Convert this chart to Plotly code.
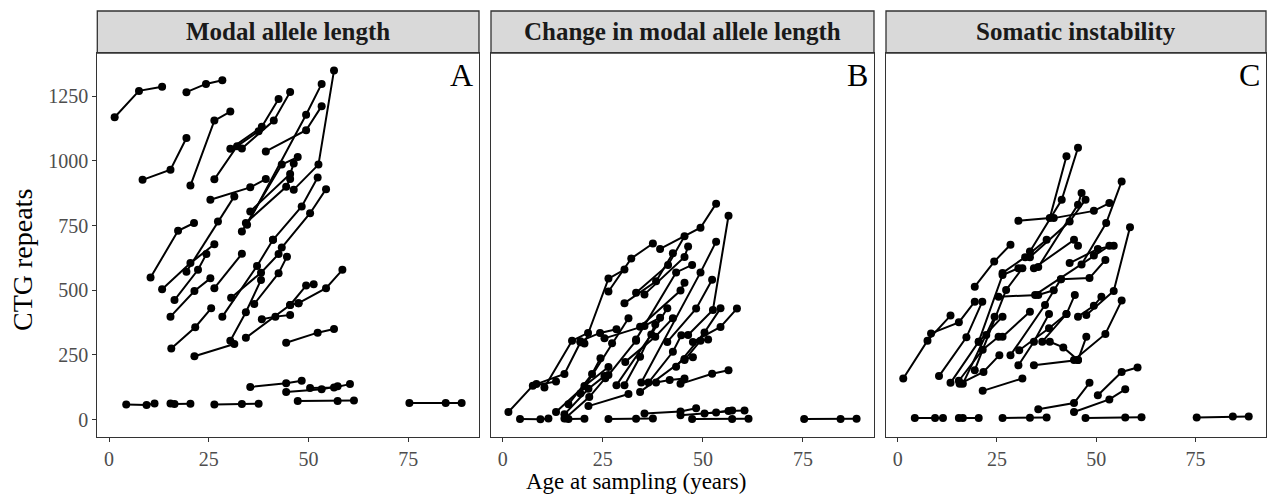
import plotly.graph_objects as go

# ---- data: one entry per individual (ages shared across panels) ----
ages = [
    [1.4, 7.5, 13.3], [19.4, 24.3, 28.4], [8.4, 15.4, 19.4], [20.4, 26.4, 30.4],
    [26.4, 32.1, 37.5], [30.4, 38.3, 42.5], [33.3, 41.3, 45.4], [39.3, 49.4, 53.3],
    [34.6, 49.4, 53.3], [46.3, 52.5, 56.4], [41.1, 48.3, 52.3], [43.3, 50.4, 54.4],
    [25.4, 35.4, 39.3], [10.4, 17.3, 21.3], [13.3, 20.4, 26.4], [19.4, 27.3, 31.4],
    [16.4, 22.3, 24.4], [15.4, 21.4, 25.4], [15.6, 21.6, 25.6], [21.4, 31.4],
    [30.4, 34.3, 38.1], [34.3, 45.4, 47.5], [26.4, 33.3], [28.4, 37.1, 41.1],
    [30.6, 38.1, 42.5], [36.4, 42.5, 44.6], [38.3, 41.7, 45.4], [45.4, 49.4, 51.3],
    [47.5, 54.4, 58.5], [44.4, 52.3, 56.4], [33.3, 43.3, 47.3], [35.4, 45.4, 46.3],
    [34.3, 44.4, 45.4], [4.3, 9.4, 11.4], [15.4, 16.4, 20.4], [26.4, 33.3, 37.5],
    [35.4, 44.4, 48.3], [44.4, 53.3, 57.3], [50.4, 56.4, 60.4], [47.3, 57.3, 61.4],
    [75.3, 84.4, 88.4],
]

modal_length = [
    [1169, 1271, 1287], [1266, 1298, 1312], [927, 966, 1089], [905, 1156, 1191],
    [929, 1057, 1115], [1047, 1132, 1240], [1048, 1156, 1267], [1037, 1119, 1212],
    [753, 1179, 1298], [889, 986, 1350], [695, 824, 936], [665, 798, 891],
    [850, 898, 930], [549, 730, 760], [504, 605, 678], [572, 766, 863],
    [462, 579, 640], [398, 497, 546], [275, 357, 430], [245, 292],
    [305, 415, 540], [316, 443, 450], [508, 641], [398, 594, 695],
    [471, 568, 640], [447, 566, 630], [388, 398, 404], [443, 518, 523],
    [450, 508, 579], [297, 336, 350], [727, 986, 1015], [805, 950, 990],
    [760, 900, 930], [58, 56, 62], [62, 60, 61], [58, 60, 61],
    [126, 140, 150], [107, 117, 129], [122, 124, 137], [72, 72, 74],
    [64, 64, 64],
]

change_length = [
    [29, 131, 147], [303, 335, 349], [137, 176, 299], [294, 545, 580],
    [495, 623, 681], [450, 535, 643], [490, 598, 709], [660, 742, 835],
    [143, 569, 688], [327, 424, 788], [300, 429, 541], [204, 337, 430],
    [314, 362, 394], [124, 305, 335], [29, 130, 203], [101, 295, 392],
    [59, 176, 237], [20, 119, 168], [5, 87, 160], [52, 99],
    [133, 243, 368], [107, 234, 241], [172, 305], [133, 329, 430],
    [223, 320, 392], [143, 262, 326], [143, 153, 159], [230, 305, 310],
    [300, 358, 429], [138, 177, 191], [310, 569, 598], [484, 629, 669],
    [359, 499, 529], [2, 1, 4], [4, 2, 3], [2, 3, 4],
    [23, 31, 44], [17, 27, 35], [23, 33, 35], [2, 2, 3],
    [2, 2, 3],
]

instability = [
    [159, 305, 402], [514, 611, 676], [333, 376, 456], [301, 559, 585],
    [567, 628, 695], [769, 779, 1018], [650, 850, 1051], [779, 807, 837],
    [482, 634, 672], [600, 760, 921], [543, 547, 617], [605, 660, 672],
    [475, 482, 500], [168, 318, 456], [142, 301, 398], [191, 501, 585],
    [138, 327, 398], [150, 270, 320], [138, 184, 249], [111, 159],
    [210, 301, 408], [210, 230, 320], [320, 417], [249, 443, 543],
    [268, 353, 408], [301, 408, 482], [301, 279, 230], [398, 440, 475],
    [404, 497, 744], [230, 331, 460], [628, 766, 850], [590, 831, 876],
    [585, 695, 672], [6, 6, 6], [6, 6, 6], [6, 7, 8],
    [40, 64, 142], [29, 78, 117], [94, 184, 201], [6, 8, 9],
    [8, 12, 12],
]

panel_titles = ["Modal allele length", "Change in modal allele length", "Somatic instability"]
panel_letters = ["A", "B", "C"]
x_ticks = [0, 25, 50, 75]
y_ticks = [0, 250, 500, 750, 1000, 1250]

# ---- layout geometry ----
W, H = 1269, 497
x_domains = [[97.3 / W, 479 / W], [491 / W, 874 / W], [886 / W, 1266 / W]]
y_domain = [1 - 437 / H, 1 - 53 / H]
strip_top = 1 - 11 / H
DARK = "#333333"
FONT = "Liberation Serif"

all_ages = [a for row in ages for a in row]
xmin, xmax = min(all_ages), max(all_ages)
xpad = 0.05 * (xmax - xmin)
all_vals = [v for s in (modal_length, change_length, instability) for row in s for v in row]
ymin, ymax = 0, max(all_vals)
ypad = 0.05 * (ymax - ymin)

fig = go.Figure()

series = [modal_length, change_length, instability]
for p, vals in enumerate(series):
    xs, ys = [], []
    for a_row, v_row in zip(ages, vals):
        xs += list(a_row) + [None]
        ys += list(v_row) + [None]
    suffix = "" if p == 0 else str(p + 1)
    fig.add_trace(go.Scatter(
        x=xs, y=ys, mode="lines+markers",
        line=dict(color="black", width=2),
        marker=dict(color="black", size=8),
        connectgaps=False, showlegend=False,
        xaxis="x" + suffix, yaxis="y" + suffix,
    ))

layout = dict(
    width=W, height=H,
    margin=dict(l=0, r=0, t=0, b=0),
    paper_bgcolor="white", plot_bgcolor="white",
    font=dict(family=FONT, color="black"),
    showlegend=False,
)

for p in range(3):
    suffix = "" if p == 0 else str(p + 1)
    layout["xaxis" + suffix] = dict(
        domain=x_domains[p], range=[xmin - xpad, xmax + xpad],
        tickmode="array", tickvals=x_ticks, ticktext=[str(t) for t in x_ticks],
        showgrid=False, zeroline=False,
        showline=True, mirror=True, linecolor=DARK, linewidth=1.3,
        ticks="outside", ticklen=4, tickwidth=1.1, tickcolor=DARK,
        tickfont=dict(family=FONT, size=20, color="#4D4D4D"),
        anchor="y" + suffix,
    )
    ydict = dict(
        domain=y_domain, range=[ymin - ypad, ymax + ypad],
        showgrid=False, zeroline=False,
        showline=True, mirror=True, linecolor=DARK, linewidth=1.3,
        anchor="x" + suffix,
    )
    if p == 0:
        ydict.update(tickmode="array", tickvals=y_ticks, ticktext=[str(t) for t in y_ticks],
                     ticks="outside", ticklen=4, tickwidth=1.1, tickcolor=DARK,
                     tickfont=dict(family=FONT, size=20, color="#4D4D4D"))
    else:
        ydict.update(matches="y", showticklabels=False, ticks="")
    layout["yaxis" + suffix] = ydict

shapes, annotations = [], []
for p in range(3):
    x0, x1 = x_domains[p]
    shapes.append(dict(type="rect", xref="paper", yref="paper",
                       x0=x0, x1=x1, y0=y_domain[1], y1=strip_top,
                       fillcolor="#D9D9D9", line=dict(color=DARK, width=1.3), layer="below"))
    annotations.append(dict(xref="paper", yref="paper", x=(x0 + x1) / 2,
                            y=(y_domain[1] + strip_top) / 2, text="<b>" + panel_titles[p] + "</b>",
                            showarrow=False, font=dict(family=FONT, size=25, color="#1A1A1A"),
                            xanchor="center", yanchor="middle"))
    suffix = "" if p == 0 else str(p + 1)
    annotations.append(dict(xref="x" + suffix + " domain", yref="y" + suffix + " domain",
                            x=0.99, y=0.995, text=panel_letters[p], showarrow=False,
                            font=dict(family=FONT, size=32, color="black"),
                            xanchor="right", yanchor="top"))

annotations.append(dict(xref="paper", yref="paper", x=636 / W, y=1 - 481 / H,
                        text="Age at sampling (years)", showarrow=False,
                        font=dict(family=FONT, size=23, color="black"),
                        xanchor="center", yanchor="middle"))
annotations.append(dict(xref="paper", yref="paper", x=22 / W, y=1 - 260 / H,
                        text="CTG repeats", showarrow=False, textangle=-90,
                        font=dict(family=FONT, size=28, color="black"),
                        xanchor="center", yanchor="middle"))

layout["shapes"] = shapes
layout["annotations"] = annotations
fig.update_layout(**layout)
fig.write_html("out.html", config={"displayModeBar": False},
               post_script="document.body.style.margin='0';document.body.style.padding='0';")
